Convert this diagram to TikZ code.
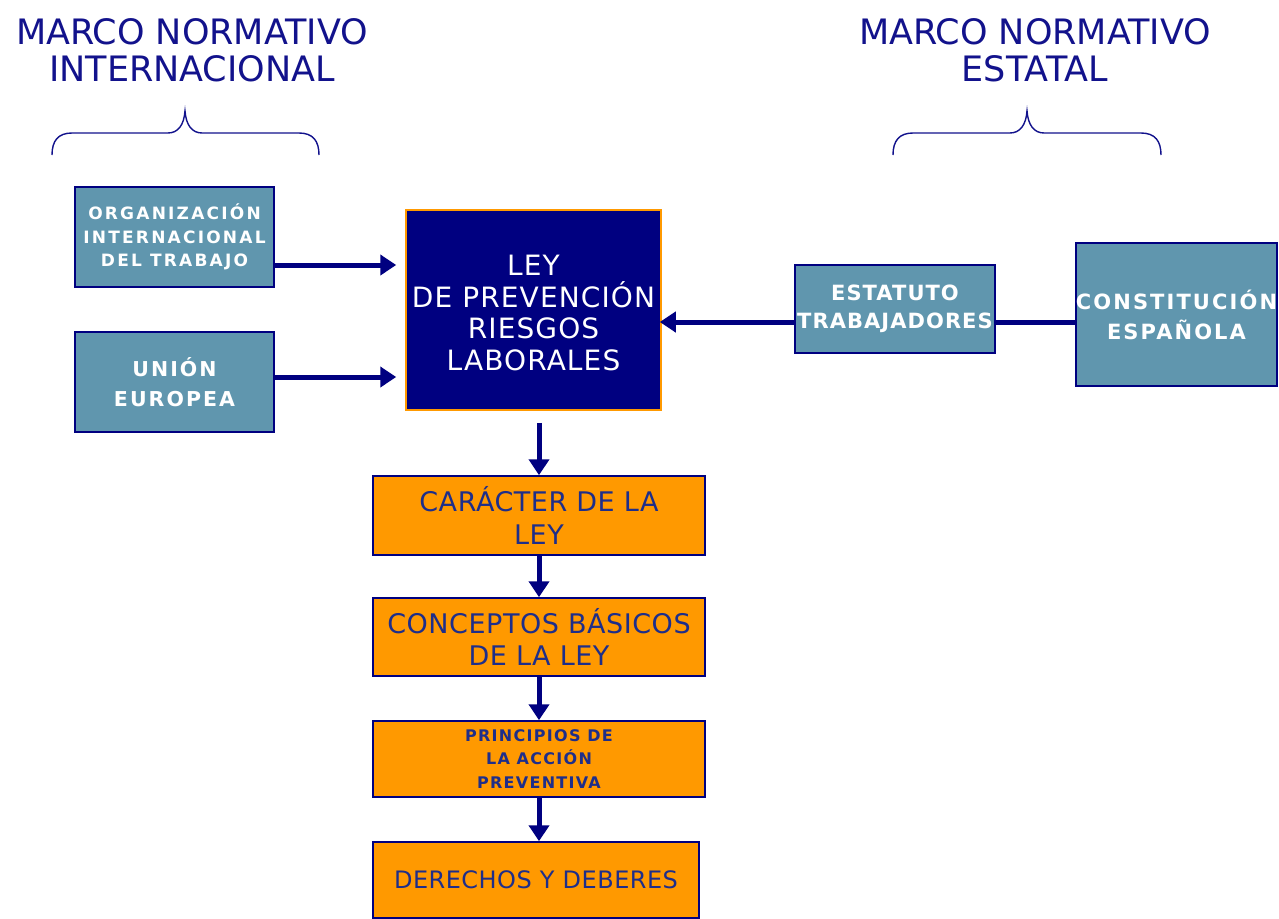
\documentclass[tikz,border=0pt]{standalone}
\usepackage{fontspec}
\setmainfont{DejaVu Sans}
\newfontfamily\lsfont{DejaVu Sans}[LetterSpace=4]
\newfontfamily\lsmid{DejaVu Sans}[LetterSpace=2]
\newfontfamily\lsbold{DejaVu Sans}[LetterSpace=13]
\newfontfamily\lsfive{DejaVu Sans}[LetterSpace=5]
\newfontfamily\lsten{DejaVu Sans}[LetterSpace=10]
\newfontfamily\lseight{DejaVu Sans}[LetterSpace=8]
\usetikzlibrary{arrows.meta}
\definecolor{navy}{HTML}{000080}
\definecolor{teal1}{HTML}{6096AE}
\definecolor{orange1}{HTML}{FF9900}
\definecolor{titleblue}{HTML}{12128C}
\definecolor{navytext}{HTML}{1E2E8A}
\begin{document}
\begin{tikzpicture}[x=1pt,y=-1pt,
  tealbox/.style={draw=navy,line width=1.5pt,fill=teal1,inner sep=0pt,text=white,align=center},
  orbox/.style={draw=navy,line width=1.5pt,fill=orange1,inner sep=0pt,text=navytext,align=center},
  leybox/.style={draw=orange1,line width=1.5pt,fill=navy,inner sep=0pt},
  leytext/.style={text=white,align=center,inner sep=0pt,font=\lsfont\fontsize{28}{31.5}\selectfont},
  conn/.style={draw=navy,line width=5pt,-{Triangle[length=16pt,width=20pt]}},
  plain/.style={draw=navy,line width=5pt},
  titletext/.style={text=titleblue,align=center,font=\fontsize{35}{37}\selectfont},
  bracestyle/.style={draw=titleblue,line width=1.4pt}]
\clip (0,0) rectangle (1279,918);
\fill[white] (0,0) rectangle (1279,918);

% titles
\node[titletext] (tint) at (192,50) {MARCO NORMATIVO\\INTERNACIONAL};
\node[titletext] (test) at (1035,50) {MARCO NORMATIVO\\ESTATAL};

% braces
\draw[bracestyle] (52,155) .. controls (52,141) and (58,133) .. (72,133) -- (168,133)
  .. controls (178,133) and (184,125) .. (185,111)
  .. controls (186,125) and (192,133) .. (202,133) -- (299,133)
  .. controls (313,133) and (319,141) .. (319,155);
\draw[bracestyle] (893,155) .. controls (893,141) and (899,133) .. (913,133) -- (1010,133)
  .. controls (1020,133) and (1026,125) .. (1027,111)
  .. controls (1028,125) and (1034,133) .. (1044,133) -- (1141,133)
  .. controls (1155,133) and (1161,141) .. (1161,155);

% left boxes
\node[tealbox,minimum width=199pt,minimum height=100pt,
  font=\lsbold\bfseries\fontsize{17}{23.5}\selectfont] (oit) at (174.5,237)
  {ORGANIZACIÓN\\INTERNACIONAL\\DEL TRABAJO};
\node[tealbox,minimum width=199pt,minimum height=100pt,
  font=\lsten\bfseries\fontsize{20.5}{30}\selectfont] (ue) at (174.5,382)
  {UNIÓN\\EUROPEA};

% central law
\node[leybox,minimum width=255pt,minimum height=200pt] (ley) at (533.5,310) {};
\node[leytext] (leyt) at (533.5,313) {LEY\\DE PREVENCIÓN\\RIESGOS\\LABORALES};

% right boxes
\node[tealbox,minimum width=200pt,minimum height=88pt,
  font=\lsfive\bfseries\fontsize{21}{28}\selectfont] (est) at (895,309)
  {ESTATUTO\\TRABAJADORES};
\node[tealbox,minimum width=201pt,minimum height=143pt,
  font=\lsten\bfseries\fontsize{21}{30}\selectfont] (con) at (1176.5,314.5)
  {CONSTITUCIÓN\\ESPAÑOLA};

% orange chain
\node[orbox,minimum width=332pt,minimum height=79pt,
  font=\lsmid\fontsize{27}{33}\selectfont] (car) at (539,515.5)
  {CARÁCTER DE LA\\LEY};
\node[orbox,minimum width=332pt,minimum height=78pt,
  font=\lsmid\fontsize{27}{32}\selectfont] (cpt) at (539,637)
  {CONCEPTOS BÁSICOS\\DE LA LEY};
\node[orbox,minimum width=332pt,minimum height=76pt,
  font=\lseight\bfseries\fontsize{16}{23.5}\selectfont] (pri) at (539,759)
  {PRINCIPIOS DE\\LA ACCIÓN\\PREVENTIVA};
\node[orbox,minimum width=326pt,minimum height=76pt,
  font=\lsmid\fontsize{24}{28}\selectfont] (der) at (536,880)
  {DERECHOS Y DEBERES};

% connectors
\draw[conn,shorten >=9pt] ([yshift=-28pt]oit.east) -- ([yshift=-28pt]oit.east -| ley.west);
\draw[conn,shorten >=9pt] ([yshift=5pt]ue.east) -- ([yshift=5pt]ue.east -| ley.west);
\draw[conn,shorten >=-2pt] ([yshift=-13pt]est.west) -- ([yshift=-13pt]est.west -| ley.east);
\draw[plain] ([yshift=-13pt]est.east) -- ([yshift=-13pt]est.east -| con.west);
\draw[conn,shorten <=12pt] (car.north |- ley.south) -- (car.north);
\draw[conn] (car.south) -- (cpt.north);
\draw[conn] (cpt.south) -- (pri.north);
\draw[conn] (pri.south) -- (pri.south |- der.north);
\end{tikzpicture}
\end{document}
